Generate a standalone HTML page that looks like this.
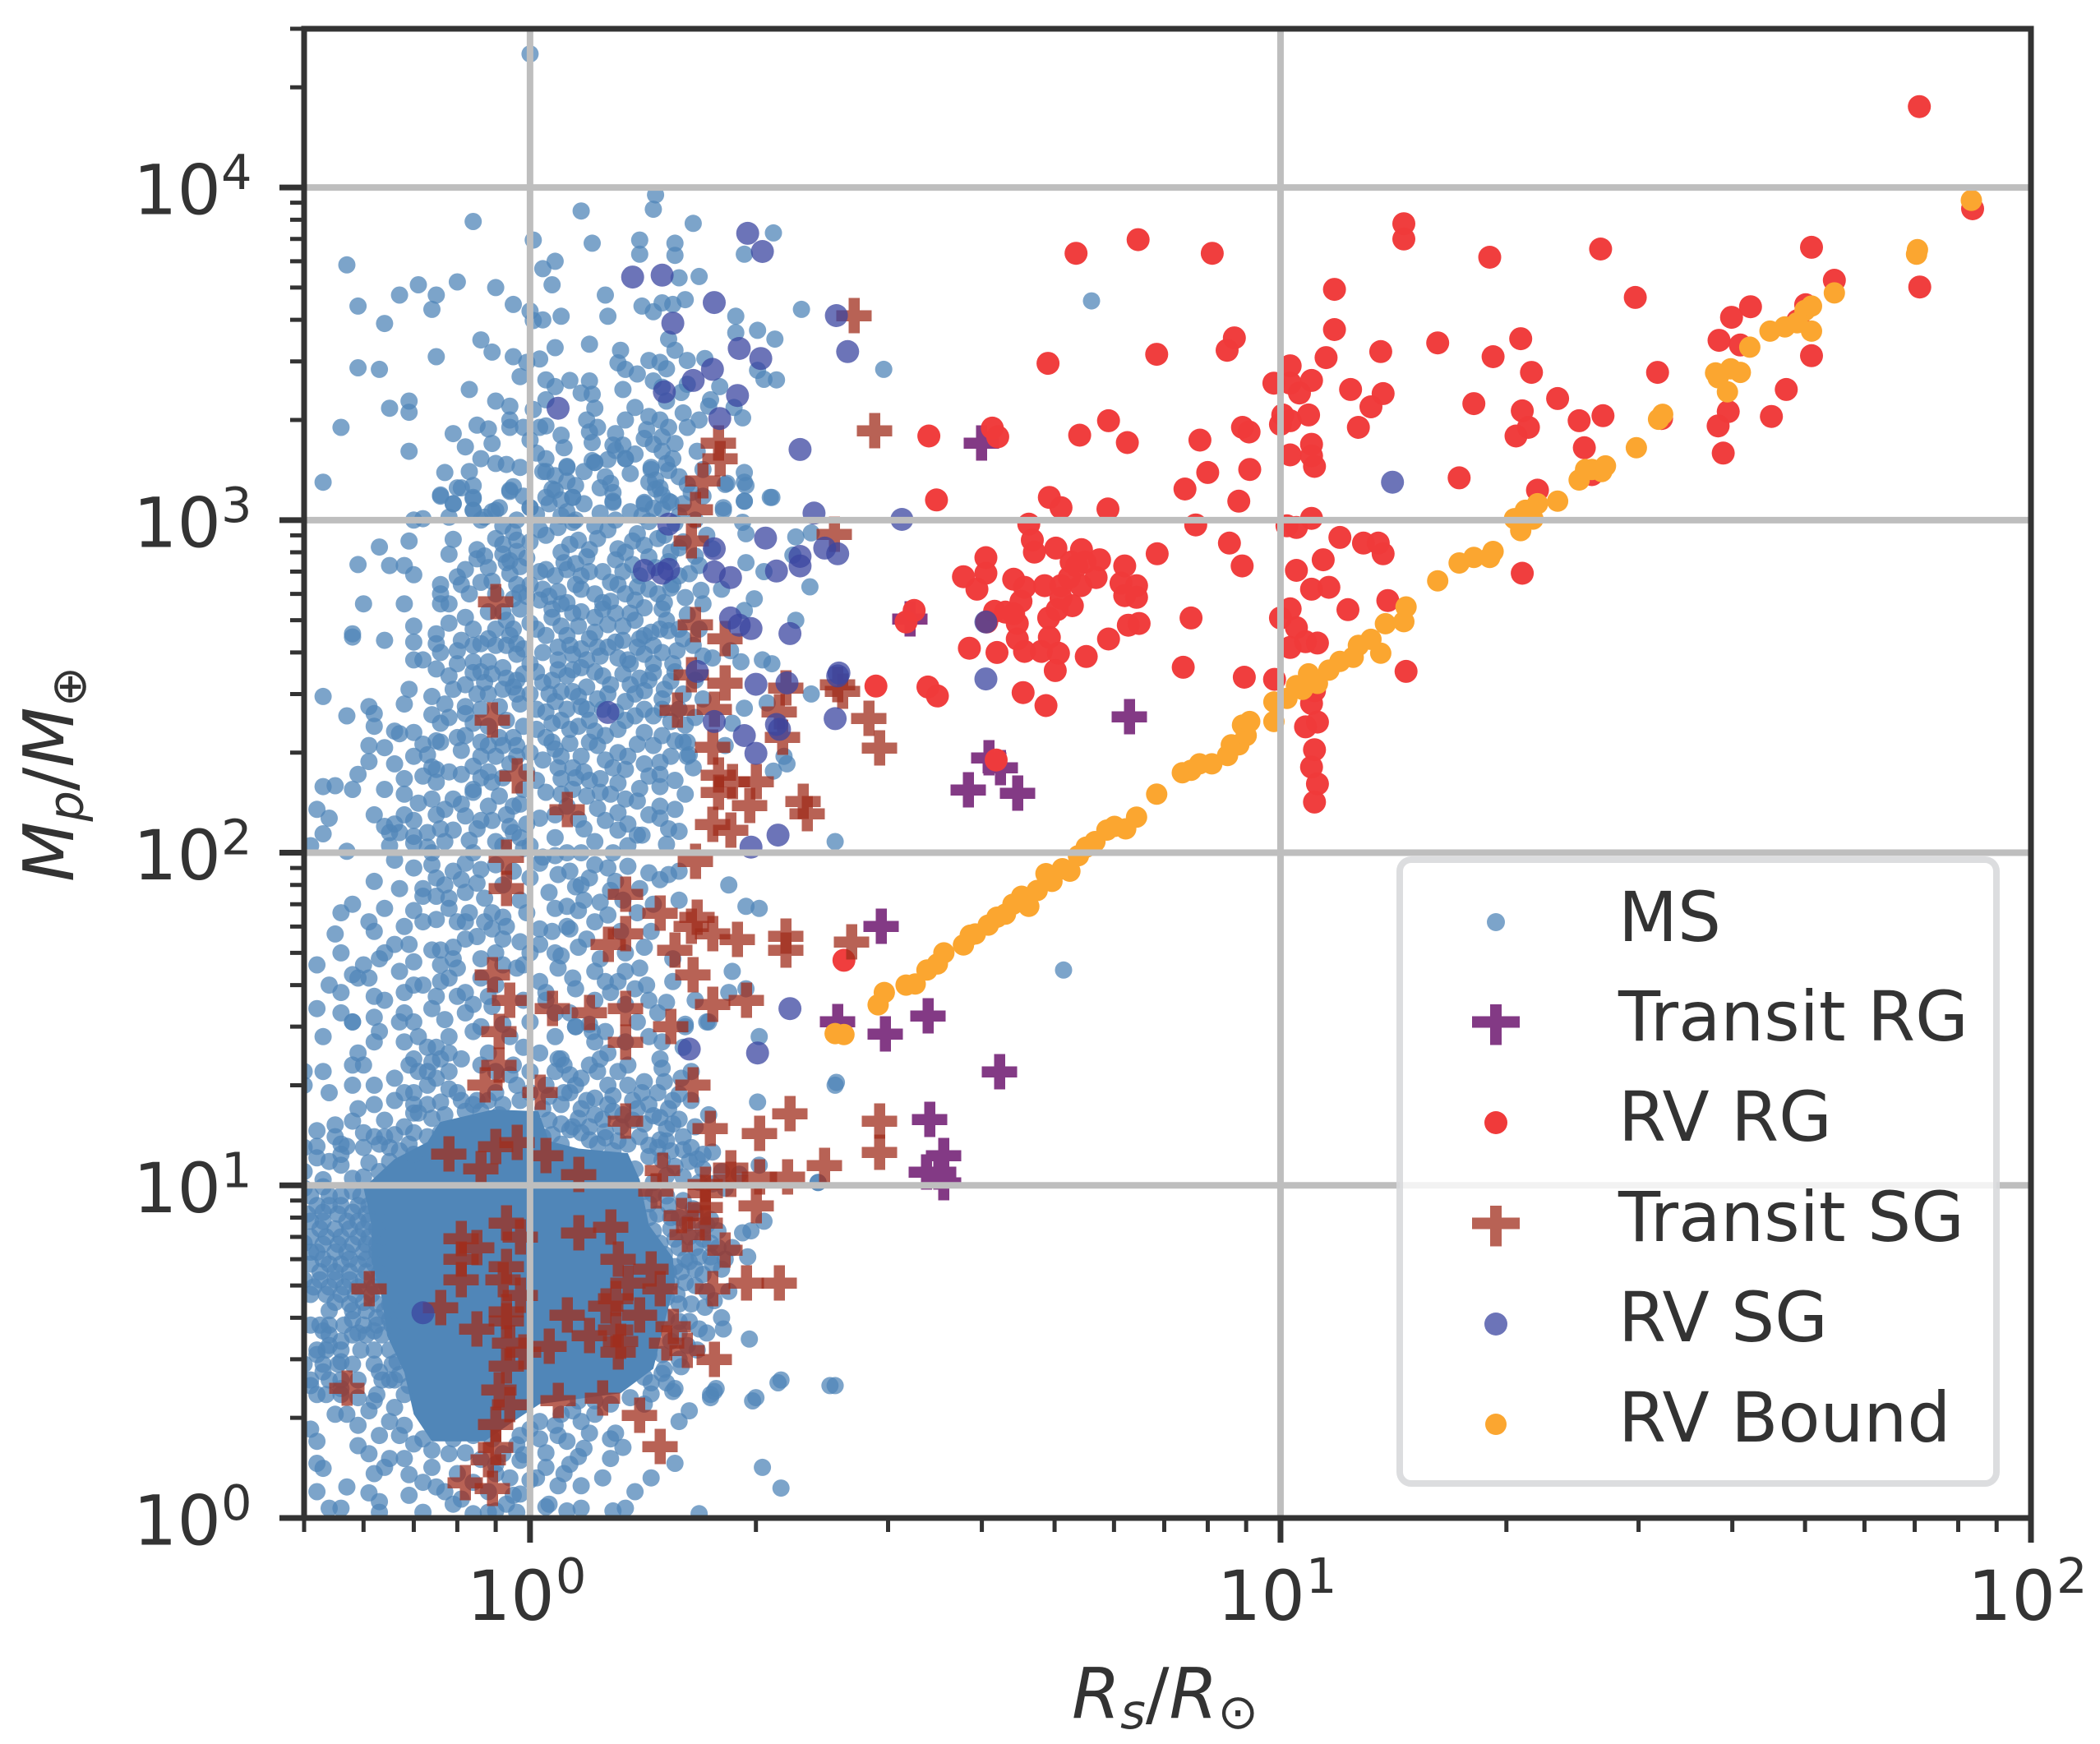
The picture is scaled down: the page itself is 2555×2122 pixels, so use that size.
<!DOCTYPE html>
<html lang="en">
<head>
<meta charset="utf-8">
<title>Planet mass versus stellar radius</title>
<style>
html,body{margin:0;padding:0;background:#fff;}
svg{display:block;}
text{font-family:"DejaVu Sans","Liberation Sans",sans-serif;fill:#333;}
</style>
</head>
<body>
<svg id="chart" xmlns="http://www.w3.org/2000/svg" width="2555" height="2122" viewBox="0 0 2555 2122">
  <rect x="0" y="0" width="2555" height="2122" fill="#fff"/>
  <defs><clipPath id="plot-clip"><rect x="370" y="35" width="2101" height="1812"/></clipPath></defs>
  <g id="marks" clip-path="url(#plot-clip)"></g>
  <g id="grid"></g>
  <g>
    <rect x="1703" y="1046" width="726" height="759" rx="14" ry="14" fill="#fff" fill-opacity="0.8" stroke="#d8d9db" stroke-opacity="0.9" stroke-width="8"/>
    <g>
      <circle cx="1820" cy="1122" r="11" fill="#5086b8" fill-opacity="0.75"/>
      <text x="1969" y="1145" font-size="83.5">MS</text>
    </g>
    <g>
      <path shape-rendering="crispEdges" d="M1813 1222h14v14.500h22v14h-22v21h-14v-21h-22v-14h22z" fill="#833a85"/>
      <text x="1969" y="1266" font-size="83.5">Transit RG</text>
    </g>
    <g>
      <circle cx="1820" cy="1366" r="14" fill="#f03a3a"/>
      <text x="1969" y="1388" font-size="83.5">RV RG</text>
    </g>
    <g>
      <path shape-rendering="crispEdges" d="M1813 1467h14v14.500h22v14h-22v21h-14v-21h-22v-14h22z" fill="#a02e1c" fill-opacity="0.75"/>
      <text x="1969" y="1510" font-size="83.5">Transit SG</text>
    </g>
    <g>
      <circle cx="1820" cy="1611" r="14" fill="#3b46a0" fill-opacity="0.75"/>
      <text x="1969" y="1632" font-size="83.5">RV SG</text>
    </g>
    <g>
      <circle cx="1820" cy="1733" r="13" fill="#fba630"/>
      <text x="1969" y="1754" font-size="83.5">RV Bound</text>
    </g>
  </g>
  <g id="axes"></g>
  <text transform="translate(89,1073) rotate(-90)" font-size="85"><tspan font-style="italic">M</tspan><tspan font-style="italic" font-size="59" dy="12">p</tspan><tspan dy="-12">/</tspan><tspan font-style="italic">M</tspan><tspan font-size="59" dy="15">⊕</tspan></text>
  <text x="1304" y="2090" font-size="85"><tspan font-style="italic">R</tspan><tspan font-style="italic" font-size="59" dy="13">s</tspan><tspan dy="-13">/</tspan><tspan font-style="italic">R</tspan><tspan font-size="59" dy="13">⊙</tspan></text>
</svg>
<script>
/* All values. [stellar radius (Rsun), planet mass (Mearth)] */
const xTickExponents = [0, 1, 2];
const yTickExponents = [0, 1, 2, 3, 4];
const minorMultipliers = [2, 3, 4, 5, 6, 7, 8, 9];
const xLimits = [0.5, 100];
const yLimits = [1, 30000];

/* Outline of the saturated, overplotted part of the MS cloud */
const msDenseOutline = [[.758,15.5],[.893,16.9],[1.026,16.7],[1.06,13.6],[1.16,12.9],[1.35,12.5],[1.4,10.4],[1.44,7.6],[1.55,6.06],[1.56,5.1],[1.5,3.63],[1.46,2.81],[1.32,2.37],[1.03,2.2],[.95,1.95],[.87,1.7],[.74,1.7],[.7,2.05],[.68,2.74],[.645,3.53],[.635,4.56],[.615,5.89],[.615,7.6],[.6,9.83],[.66,12],[.73,13.5]];

const msGiantPlanets = [[1,25200],[.84,7900],[1.17,8500],[1.47,9500],[1.46,8600],[1.65,7800],[1.01,6950],[1.21,6800],[.57,5850],[1.4,6950],[1.4,6300],[1.56,6800],[1.56,6250],[1.93,6300],[2.11,7300],[1.04,5700],[1.08,6000],[1.58,5350],[1.68,5400],[.8,5200],[.71,5100],[.9,5000],[1.07,5100],[.67,4750],[.75,4750],[.59,4400],[.74,4300],[.95,4450],[1.26,4750],[1,4250],[1.01,3980],[1.04,4000],[1.1,4100],[1.27,4100],[1.41,4400],[1.46,4230],[1.5,4500],[1.55,4450],[1.61,4600],[.64,3900],[2.3,4300],[1.88,4100],[1.88,3660],[2.01,3720],[2.12,3500],[.86,3480],[.89,3200],[1.2,3380],[1.08,3300],[1.53,3500],[1.56,3240],[1.32,3240],[1.31,2970],[1.34,2840],[1.44,3020],[1.49,2980],[1.52,2850],[1.62,3020],[1.71,3060],[.95,3100],[.99,2980],[1.03,3050],[.59,2870],[.63,2840],[.75,3100],[1.39,2750],[.97,2700],[1.05,2640],[1.08,2520],[1.13,2630],[1.2,2620],[1.17,2410],[1.21,2390],[1.33,2470],[1.5,2510],[1.59,2420],[1.79,2520],[2.01,2820],[2.05,2650],[2.13,2640],[.83,2470],[.9,2280],[.94,2200],[1.05,2300],[1.01,2150],[.69,2280],[.69,2110],[.65,2170],[1.22,2170],[1.19,2000],[1.34,2000],[1.49,2000],[1.74,2300],[1.73,2200],[1.87,2180],[1.92,2030],[.56,1900],[.85,1930],[.88,1880],[.94,2000],[.94,1900],[.98,1900],[1.03,1900],[1.05,1920],[1.23,1900],[1.43,1870],[1.53,1900],[.89,1700],[1.21,1710],[1.5,1780],[.69,1610],[1.11,1650],[1.29,1680],[1.33,1680],[1.46,1690],[1.02,1590],[1.05,1530],[1.21,1510],[1.27,1520],[1.34,1530],[1.5,1610],[1.55,1530],[1.67,1610],[.93,1470],[1.12,1450],[1.22,1490],[.53,1300],[.77,1390],[.83,1400],[1.05,1400],[1.08,1360],[1.45,1420],[1.53,1410],[1.93,1390],[1.26,1350],[1.47,1320],[1.94,1270],[.84,1270],[.8,1250],[.95,1260],[1.15,1270],[1.24,1250],[1.47,1240],[1.83,1290],[.76,1190],[.84,1170],[.94,1220],[1.07,1240],[1.14,1170],[1.29,1210],[1.5,1190],[1.64,1210],[2.09,1170],[.79,1120],[1.05,1170],[1.1,1150],[1.29,1130],[1.42,1130],[1.54,1130],[1.93,1140],[.84,1070],[.9,1070],[1,1090],[1.46,1085],[1.81,1070],[5.6,4560],[2.96,2840]];

const msMidMassA = [[.76,1180],[.81,1250],[.84,1160],[.79,1120],[.84,1070],[.89,1060],[.94,1230],[1,1090],[1.04,1400],[1.12,1440],[1.08,1230],[1.14,1170],[1.29,1140],[1.22,1490],[1.34,1530],[1.45,1440],[1.49,1250],[1.53,1140],[1.58,1030],[1.42,1120],[1.81,1090],[1.93,1300],[1.93,1140],[2.1,1170],[1.82,1280],[1.92,985],[.7,1000],[.72,1010],[.78,1020],[.87,1020],[.91,1090],[.96,1000],[1.1,1030],[1.15,1000],[1.24,1050],[1.41,1030],[.63,830],[.69,865],[.79,875],[.78,790],[.85,815],[.85,765],[.87,780],[.59,735],[.65,730],[.68,730],[.7,685],[.92,845],[.96,870],[.96,805],[.94,755],[.93,745],[.97,725],[.94,690],[.96,640],[.89,655],[.8,675],[.76,640],[.76,600],[.78,560],[.83,600],[.76,560],[.81,640],[.68,560],[.6,560],[1.03,935],[1.09,950],[1.14,985],[1.13,845],[1.2,815],[1.19,775],[1.11,745],[1.12,710],[1.05,710],[1.17,680],[1.25,700],[1.31,820],[1.37,865],[1.39,910],[1.27,935],[1.37,735],[1.44,775],[1.31,640],[1.39,630],[1.48,600],[1.61,585],[1.51,565],[1.42,545],[1.38,575],[1.25,565],[1.69,615],[1.54,625],[1.63,690],[1.58,825],[1.51,900],[1.94,745],[2.05,700],[2.37,915],[2.26,890],[1.94,910],[2.24,785],[2.36,630],[1.99,580],[1.93,535],[2.26,500],[1.04,620],[1.09,610],[1.17,620],[1.12,565],[1.03,575],[.99,590],[.97,605]];

const msMidMassB = [[.58,455],[.58,445],[.64,435],[.7,480],[.7,430],[.7,380],[.75,455],[.75,425],[.76,400],[.8,405],[.81,435],[.78,490],[.82,510],[.84,470],[.86,425],[.9,420],[.93,420],[.96,425],[.96,395],[.95,470],[.92,530],[1,490],[1.05,450],[1.09,415],[1.07,510],[1.1,480],[1.14,525],[1.17,530],[1.22,510],[1.22,460],[1.27,485],[1.3,525],[1.36,525],[1.45,460],[1.49,470],[1.53,465],[1.33,435],[1.23,415],[1.27,415],[1.14,395],[1.19,380],[1.39,415],[1.31,385],[1.42,395],[1.35,380],[1.46,370],[1.57,405],[1.65,420],[1.75,385],[1.91,375],[2.04,380],[2.1,370],[1.85,405],[.75,357],[.84,375],[.88,375],[.84,348],[.89,345],[.93,335],[.87,325],[.98,345],[.95,315],[.85,300],[.79,310],[.74,295],[.68,280],[.69,310],[.53,295],[.77,280],[.82,275],[.91,275],[.96,300],[1,300],[1.04,325],[1.06,300],[1.1,305],[1.14,305],[1.09,355],[1.14,355],[1.25,340],[1.19,315],[1.17,275],[1.23,290],[1.27,300],[1.36,320],[1.4,335],[1.42,307],[1.51,310],[1.46,348],[1.54,328],[.61,275],[.62,262],[.57,258],[.62,240],[.66,232],[.67,228],[.76,245],[.8,222],[.82,262],[.86,270],[.91,222],[.95,222],[1.05,265],[1.1,250],[1.05,222],[1.13,213],[1.19,270],[1.16,240],[1.22,232],[1.31,235],[1.38,258],[1.46,258],[1.54,248],[1.61,242],[1.7,290],[1.86,245],[1.93,272],[2.07,282],[2.37,300],[1.39,212],[1.46,210],[1.31,200],[1.35,195],[1.56,217],[1.62,215],[1.63,197]];

const msMidMassC = [[.61,210],[.64,207],[.72,212],[.73,197],[.75,217],[.61,188],[.74,181],[.75,178],[.68,167],[.75,163],[.81,203],[.88,210],[.92,210],[.96,210],[.86,195],[.84,182],[.81,172],[.86,168],[.89,163],[.96,195],[1,200],[1.07,215],[1.1,195],[1.09,180],[1.17,195],[1.23,210],[1.29,180],[1.1,167],[1.15,168],[1.2,165],[1.24,167],[1.31,162],[1.49,187],[1.49,172],[1.65,180],[1.62,195],[2.2,185],[2.18,195],[2.11,176],[1.82,210],[.59,172],[.53,158],[.55,159],[.58,155],[.52,135],[.54,127],[.53,114],[.79,145],[.81,140],[.84,152],[.91,148],[.88,138],[.95,138],[.97,140],[1.05,152],[1.19,148],[1.24,152],[1.23,136],[1.4,156],[1.39,143],[1.49,158],[1.61,150],[1.49,138],[1.31,132],[1.49,127],[1.03,127],[.71,141],[.68,130],[.75,130],[.82,129],[.64,120],[.65,115],[.67,115],[.7,112],[.73,115],[.65,105],[.7,107],[.73,104],[.77,108],[.79,117],[.83,109],[.85,118],[.89,125],[.94,120],[.95,115],[.97,111],[.9,108],[1.08,111],[1.16,126],[1.31,117],[1.35,105],[1.39,113],[1.41,113],[1.53,118],[1.58,116],[1.52,106],[2.55,108],[.57,101],[.51,105],[.98,103],[1.08,98],[1.04,97],[1.12,100],[1.17,100],[.74,100]];

const msNeptunesA = [[.82,93],[.86,89],[.75,84],[.81,83],[.85,81],[.72,78],[.77,80],[.72,74],[.78,73],[.78,68],[.58,70],[.56,66],[.61,62],[.7,67],[.75,63],[.83,66],[.87,73],[.89,66],[.87,62],[.92,64],[.8,62],[.89,59],[.55,57],[1.03,93],[1.09,86],[1.06,76],[1.2,84],[1.17,80],[1.15,79],[1.27,90],[1.35,91],[1.44,87],[1.49,83],[1.53,86],[1.28,77],[1.24,71],[1.12,69],[1.16,67],[1.27,65],[1.39,66],[1.03,59],[1.13,59],[1.07,58],[1.84,80],[1.94,69],[2.02,68],[1.19,55],[1.03,53],[.92,55],[.97,54],[.85,56],[.82,55],[.69,53],[.66,53],[.63,48],[.74,51],[.76,51],[.79,48],[.8,45],[.76,46],[.67,44],[.52,46],[.58,43],[.59,42],[.61,42],[.56,38],[.72,40],[.76,41],[.75,37],[.8,37],[.82,38],[.84,35],[.64,36],[.68,33],[.52,34],[.58,31],[.77,31.5],[1.09,45],[1.08,50],[1.1,49],[1.14,42],[1.15,39],[1.26,41],[1.31,41],[1.28,38],[1.34,50],[1.4,45],[1.43,40],[1.38,39],[1.44,36],[1.52,35.5],[1.86,44],[1.84,38],[1.94,39],[.92,46],[.96,45],[.98,46],[1.03,41],[1.05,38],[1.13,33],[1.15,30],[1.2,30.5],[1.39,31],[1.61,30.5],[1.72,31],[1.05,36],[.89,34.5],[.92,30.5],[5.14,44.4]];

const msNeptunesB = [[.53,28],[.58,31],[.63,29],[.62,27],[.68,27],[.67,31],[.71,28],[.73,26],[.75,26],[.59,25],[.58,23],[.6,23],[.69,23],[.53,22],[.5,22],[.5,20],[.58,20],[.54,19],[.59,17],[.71,22],[.73,22],[.78,22],[.81,24],[.76,24],[.84,29],[.88,25],[.98,26],[.95,23],[1.03,25],[1.09,24],[1.11,23],[1.08,22],[1.1,24],[1.15,30],[1.21,29],[1.22,27],[1.49,24],[1.44,28],[1.27,25],[1.61,30],[1.73,31],[2.02,28],[1.24,24],[1.23,22],[1.17,21],[1.15,20],[1.13,19],[1.31,22],[1.35,20],[1.42,20.5],[1.51,20.5],[1.64,22],[1.59,21],[1.64,18],[1.55,18],[1.48,19],[1.41,19],[1.29,18.6],[1.19,18],[.68,19],[.7,19],[.73,20],[.75,21],[.78,19.5],[.73,17.5],[.71,16.5],[.81,18],[.85,18],[.9,19],[.96,20],[.97,18],[1.04,17],[1.1,17.5],[1.14,15],[1.22,16.3],[1.25,15.8],[1.29,16.7],[1.39,17],[1.49,16],[1.55,15.3],[1.49,13.7],[1.54,12.7],[1.64,13],[1.7,12.4],[1.73,16.3],[2.01,17.8],[2.56,20.4],[2.55,20],[.64,15.7],[.68,15],[.62,14],[.64,14],[.6,14.4],[.52,14.6],[.55,15.2],[.55,14],[.56,13.3],[.57,13.1],[.56,12.4],[.52,13.1],[.5,13],[.65,13],[.7,16.5],[.74,15.9],[.77,16.3],[.82,16.7],[.86,16.7],[.91,16.3],[.97,15.6],[.76,14.4],[.81,14.8],[.85,15.2],[.7,14.4],[.73,14],[.69,13.3],[.67,12.7],[.7,12.4],[.73,12.4],[.61,11.7],[.63,11],[.58,10.5],[.65,11.8],[.72,11.5],[.5,11],[.66,10.9],[.75,13],[.78,11.8],[.84,12.7],[.92,12.7],[.98,14],[1.04,14],[1.1,13.3],[1.17,14.4],[1.23,13.3],[1.29,12.7],[1.31,13.6],[1.35,13.3],[1.38,11.2],[1.48,13],[1.63,11.8],[1.7,11.2],[1.8,11],[2.02,11.5],[2.42,10.2],[1.82,9.8]];

const msLowLeft = [[.54,9.3],[.51,9.3],[.56,9.3],[.52,8.7],[.56,8.7],[.54,8.7],[.59,8.7],[.61,8.7],[.53,7.8],[.51,7.8],[.59,7.8],[.61,7.8],[.63,7.8],[.57,7.8],[.51,7],[.535,7],[.56,7],[.59,7],[.61,7],[.635,7],[.51,6.3],[.52,6.3],[.55,6.3],[.57,6.3],[.6,6.3],[.625,6.3],[.51,5.8],[.54,5.8],[.56,5.8],[.59,5.8],[.62,5.8],[.64,5.8],[.5,5.2],[.525,5.2],[.55,5.2],[.575,5.2],[.6,5.2],[.63,5.2],[.51,4.7],[.535,4.7],[.56,4.7],[.585,4.7],[.615,4.7],[.54,4.2],[.58,4.2],[.605,4.2],[.64,4.2],[.66,4.2],[.51,3.8],[.525,3.8],[.54,3.8],[.565,3.8],[.6,3.8],[.625,3.8],[.655,3.8],[.54,3.55],[.58,3.55],[.605,3.55],[.635,3.55],[.52,3.2],[.535,3.2],[.56,3.2],[.595,3.2],[.62,3.2],[.65,3.2],[.5,2.9],[.53,2.9],[.555,2.9],[.58,2.9],[.62,2.9],[.655,2.9],[.51,2.6],[.54,2.6],[.56,2.6],[.59,2.6],[.635,2.6],[.66,2.6],[.52,2.35],[.535,2.35],[.56,2.35],[.625,2.35],[.68,2.35]];

const msLowRight = [[1.44,8.8],[1.48,8.2],[1.53,8.7],[1.44,8],[1.58,8],[1.65,8.5],[1.72,7.6],[1.54,7.4],[1.46,7.3],[1.41,6.9],[1.49,6.7],[1.56,6.9],[1.63,7],[1.7,6.9],[1.92,7.2],[1.97,7.3],[2.05,7.8],[1.95,6.1],[1.78,6.5],[1.68,6.1],[1.74,6.1],[1.82,6],[1.61,6],[1.51,6.2],[1.56,5.7],[1.63,5.9],[1.53,5.5],[1.59,5.5],[1.7,5.4],[1.8,5.6],[1.84,4.8],[1.54,5.1],[1.61,5.1],[1.58,4.4],[1.71,4.3],[1.8,4],[1.81,3.7],[1.72,3.6],[1.63,3.9],[1.57,4.7],[1.52,4.6],[1.96,3.45],[1.58,3.6],[1.67,3.2],[1.58,3],[1.59,2.85],[1.44,3.1],[1.51,2.8],[1.56,2.45],[1.77,2.45],[1.74,2.35],[2.16,2.6],[2.55,2.5],[2,2.3],[1.38,3.4],[2.42,10.2]];

const msLowBottom = [[1.2,1.8],[1.17,1.95],[1.28,1.73],[1.33,1.63],[1.28,1.51],[1.25,1.32],[1.16,1.53],[1.13,1.45],[1.17,1.25],[1.11,1.36],[1.09,1.25],[1.06,1.1],[1.02,1.32],[1.05,1.57],[1.09,1.77],[1.03,1.73],[.97,1.49],[.97,1.18],[.93,1.1],[.88,1.04],[.84,1.03],[.81,1.14],[.79,1.1],[.75,1.24],[.72,1.28],[.69,1.17],[.68,1.51],[.65,1.51],[.61,1.56],[.59,1.65],[.62,1.36],[.64,1.42],[.61,1.19],[.63,1.12],[.56,1.07],[.57,1.24],[.54,1.07],[.52,1.2],[.53,1.41],[.52,1.46],[.52,1.7],[.51,1.85],[.57,2.05],[.59,1.9],[.61,2.1],[.62,2.25],[.55,2.05],[.53,2.75],[.56,2.95],[.54,3.3],[.53,3.65],[.56,3.4],[.52,3.1],[.51,2.5],[.56,2.45],[.59,2.3],[.63,2.75],[.65,2.6],[.63,1.77],[.68,1.9],[.72,1.73],[.79,1.73],[.84,1.77],[.89,1.73],[.94,1.32],[.9,1.36],[.97,1.77],[1.03,1.95],[1.1,2.05],[1.16,2.25],[1.22,2.25],[1.3,1.8],[1.42,2.2],[1.45,2.36],[1.55,2.4],[1.5,2.72],[1.45,2.55],[1.58,1.95],[1.63,2.1],[1.74,2.3],[1.76,2.4],[1.98,2.25],[2.14,2.55],[2.51,2.5],[2.04,1.42],[2.16,1.23],[1.56,1.46],[1.45,1.32],[1.38,1.2],[1.29,1.05],[1.34,1.07],[1.68,1.03],[1.17,1.07],[1.12,1.05],[1.05,1.08],[.95,1.17],[.72,1.04],[.63,1.04],[.96,1.04],[.9,1.05]];

const msUpperFill = [[.86,1000],[.92,960],[.98,1180],[1.02,1040],[1.06,1120],[1.12,1060],[1.18,1120],[1.22,960],[1.3,1000],[1.36,1060],[1.44,990],[1.5,1080],[1.56,980],[1.6,1120],[1.66,1000],[1.7,1180],[.9,880],[.95,920],[1,860],[1.05,900],[1.1,800],[1.16,870],[1.23,880],[1.3,760],[1.34,800],[1.42,840],[1.48,880],[1.54,800],[1.6,860],[1.66,780],[1.72,900],[.88,720],[.92,790],[.99,770],[1.03,700],[1.08,680],[1.15,740],[1.2,700],[1.28,650],[1.33,700],[1.4,680],[1.47,720],[1.53,750],[1.58,680],[1.68,730],[1.75,820],[.82,710],[.86,650],[.9,600],[.95,580],[1,640],[1.06,590],[1.1,560],[1.15,640],[1.22,600],[1.28,570],[1.34,600],[1.44,620],[1.5,540],[1.55,640],[1.62,520],[1.7,560],[1.8,620],[.88,530],[.93,500],[.97,540],[1.02,470],[1.07,540],[1.12,450],[1.16,480],[1.2,440],[1.25,540],[1.33,480],[1.38,500],[1.42,450],[1.52,500],[1.58,470],[1.68,470],[.88,440],[.9,470],[.94,450],[.98,410],[1,370],[1.04,400],[1.09,380],[1.13,420],[1.17,410],[1.24,390],[1.3,430],[1.36,370],[1.4,440],[1.46,420],[1.5,400],[1.55,370],[1.6,440],[1.7,390],[.8,370],[.84,420],[.72,380],[.78,340],[1.28,1290],[1.36,1380],[1.44,1300],[1.52,1480],[1.58,1350],[1.62,1280],[1.7,1420],[1.3,1620],[1.38,1580],[1.42,1760],[1.56,1700],[1.62,1900],[1.2,1840],[1.3,1820],[1.38,2180],[1.44,2050],[1.52,2280],[1.6,2100],[1.68,2000],[1.1,1800],[1,1740],[.97,1440],[.9,1480],[.86,1530],[.82,1660],[.79,1820],[1.12,1310],[1.18,1400],[1.62,2560],[1.46,2620]];

const msMidFill = [[.86,350],[.92,360],[.96,330],[1.02,350],[1.07,330],[1.12,340],[1.17,360],[1.22,350],[1.28,320],[1.33,345],[1.38,300],[1.44,330],[1.5,290],[1.56,350],[1.6,300],[1.66,330],[.82,320],[.88,300],[.92,310],[.97,280],[1.02,270],[1.08,285],[1.12,270],[1.16,295],[1.2,250],[1.25,270],[1.3,265],[1.34,285],[1.42,270],[1.5,270],[1.58,270],[1.66,255],[.74,260],[.78,255],[.84,245],[.88,240],[.93,250],[.98,240],[1.02,235],[1.07,245],[1.13,235],[1.2,215],[1.26,225],[1.34,250],[1.42,230],[1.5,225],[1.6,215],[.7,230],[.76,215],[.82,225],[.86,215],[.9,195],[.94,185],[.99,175],[1.04,190],[1.08,205],[1.14,180],[1.18,175],[1.26,190],[1.34,178],[1.42,185],[1.54,195],[.7,195],[.66,185],[.72,170],[.78,175],[.84,155],[.88,175],[.92,168],[.98,155],[1.02,165],[1.1,150],[1.14,155],[1.28,150],[1.34,145],[1.44,170],[1.56,165],[.64,155],[.68,150],[.74,145],[.77,135],[.86,125],[.93,130],[.99,122],[1.08,130],[1.12,138],[1.18,118],[1.26,125],[1.35,122],[1.44,130],[1.56,135],[.62,130],[.66,122],[.7,125],[.76,118],[.84,100],[.92,105],[1,105],[1.22,108],[1.29,100]];

const msNeptuneFill = [[.66,95],[.7,90],[.74,92],[.79,88],[.9,92],[.95,88],[1.13,88],[1.22,92],[1.3,82],[1.4,78],[1.58,88],[.62,82],[.67,78],[.75,74],[.82,76],[.92,80],[.97,72],[1,84],[1.08,68],[1.18,72],[1.33,72],[1.46,70],[1.58,72],[.64,68],[.68,60],[.72,62],[.82,62],[.93,60],[.99,66],[1.12,60],[1.22,62],[1.32,58],[1.45,58],[.62,58],[.64,50],[.7,47],[.79,52],[.86,48],[.9,50],[1,50],[1.16,52],[1.24,48],[1.42,52],[1.55,48],[.56,50],[.6,46],[.7,40],[.78,42],[.86,42],[.9,40],[1.22,44],[1.34,44],[1.55,41],[.54,40],[.62,37],[.68,38],[.74,34],[.82,33],[.88,37],[.98,36],[1.08,33],[1.22,36],[1.34,35],[1.48,33],[1.66,36],[.56,33],[.62,32],[.7,31],[.78,28],[.86,30],[.94,28],[1,31],[1.08,28],[1.26,29],[1.34,27],[1.5,27],[1.6,26]];

const msTenFill = [[.62,20],[.66,21],[.7,24],[.74,23.5],[.78,25],[.86,23],[.9,22],[.94,21.5],[1,22],[1.05,20],[1.13,21.5],[1.2,23],[1.27,20],[1.35,23],[1.5,22.5],[.62,17.5],[.66,18],[.7,17.5],[.76,17.8],[.8,19],[.84,17.5],[.88,18],[.92,17.5],[1,19],[1.06,18.5],[1.11,19],[1.17,17],[1.22,18.3],[1.27,17.5],[1.33,16.3],[1.37,18],[1.44,17.5],[1.53,17],[1.58,18.8],[1.06,15.7],[1.1,15.3],[1.16,15.9],[1.2,15],[1.26,14.5],[1.32,15],[1.37,15.7],[1.42,15.3],[1.46,16.2],[1.52,14.8],[1.58,15.8],[1.66,15],[.58,15.6],[.6,13],[.63,13.3],[.66,14.2],[1.07,14.2],[1.13,14.7],[1.2,13.7],[1.26,13.9],[1.4,14],[1.44,13.2],[1.52,13.6],[1.6,14],[1.44,12.2],[1.5,11.9],[1.56,11.4],[1.6,12.8],[1.67,12],[1.75,12.6],[1.52,10.7],[1.6,10.6],[1.68,10.2],[1.75,10.1],[1.9,10.8],[1.46,10.2],[.56,11.5],[.54,11.8],[.52,12.1],[.6,10.6],[.53,10.4]];

const msEdgeFill = [[.5,9.8],[.53,9.9],[.58,9.6],[.595,9.3],[.505,8.2],[.53,8.3],[.555,8.2],[.58,8.3],[.605,8.2],[.525,7.4],[.55,7.4],[.575,7.4],[.6,7.4],[.625,7.4],[.5,6.7],[.53,6.65],[.555,6.65],[.58,6.65],[.605,6.65],[.625,6.65],[.53,6],[.575,6],[.605,6],[.525,5.5],[.55,5.5],[.575,5.5],[.605,5.5],[.63,5.45],[.515,4.95],[.54,4.95],[.565,4.95],[.59,4.95],[.62,4.95],[.55,4.45],[.575,4.4],[.6,4.45],[.625,4.4],[.65,4.4],[.58,3.95],[.625,4],[.65,3.95],[.59,3.6],[.62,3.65],[.665,3.5],[.68,3.2],[.665,2.95],[.67,2.7],[.69,2.5],[1.42,9.6],[1.46,9.4],[1.52,9.3],[1.6,9],[1.66,8.3],[1.74,7.9],[1.78,7.3],[1.62,7.7],[1.7,7.4],[1.54,8],[1.58,6.5],[1.66,6.5],[1.74,6.7],[1.86,6.5],[1.66,5.6],[1.75,5.8],[1.66,5],[1.72,4.8],[1.76,4.5],[1.64,4.4],[1.52,4],[1.58,3.9],[1.68,3.7],[1.54,3.4],[1.62,3.3],[1.5,3.1],[1.52,2.55],[1.42,2.65],[1.36,2.3],[1.28,2.2],[1.22,2.05],[1.14,2.1],[1.08,1.9],[1.12,1.7],[1.18,1.62],[1,1.85],[.96,1.66],[.98,1.55],[1.05,1.42],[1,1.3],[.92,1.56],[.9,1.45],[.86,1.5],[.82,1.57],[.78,1.56],[.74,1.6],[.7,1.67],[.67,1.77],[.65,1.95],[.66,2.15],[.69,1.35],[.74,1.42],[.8,1.36],[.84,1.28],[.88,1.2],[.77,1.2]];

const transitRgPoints = [[2.94,60],[2.57,31],[2.97,28.6],[3.39,32.4],[4.22,22],[3.41,15.8],[3.56,12.3],[3.37,11],[3.56,10.2],[3.5,11],[3.99,1710],[3.21,506],[6.29,257],[4.09,193],[4.23,180],[3.84,155],[4.46,151]];

const rvRgPoints = [[5.34,6340],[6.46,6970],[8.11,6340],[14.6,7000],[14.6,7780],[11.8,4940],[11.8,3740],[8.68,3530],[8.49,3240],[6.84,3150],[4.9,2960],[16.2,3410],[13.6,3210],[11.5,3080],[10.3,2910],[9.8,2580],[11,2630],[10.3,2580],[10.6,2410],[12.4,2470],[13.7,2400],[13.2,2190],[12.7,1900],[10.9,2070],[10.07,2070],[10,1940],[10.3,1990],[8.9,1900],[9.08,1840],[7.81,1740],[10.3,1570],[11,1690],[11,1560],[11.1,1450],[8,1390],[9.1,1420],[7.46,1240],[8.8,1140],[5.4,1800],[5.9,1990],[6.25,1710],[4.13,1890],[4.2,1780],[3.4,1790],[3.48,1150],[4.92,1170],[5.1,1090],[5.89,1080],[4.62,972],[4.67,871],[5.02,824],[4.7,801],[5.43,815],[5.74,760],[5.26,748],[7.71,967],[8.55,853],[8.89,728],[6.85,792],[6.2,728],[10.2,961],[10.5,950],[11,1012],[12,887],[12.9,853],[13.5,853],[13.7,792],[11.4,760],[10.5,706],[11,620],[11.6,628],[12.3,538],[13.9,573],[14.7,351],[10.3,541],[10,508],[10.5,475],[10.3,414],[10.8,431],[11.2,427],[7.6,508],[7.42,361],[8.95,337],[9.82,332],[11.1,307],[11,281],[11.2,247],[10.8,239],[11.1,204],[11,181],[11.2,161],[11.1,142],[3.78,676],[4.05,771],[4.05,692],[3.94,620],[4.41,664],[4.56,628],[4.85,635],[5.1,635],[5.23,672],[5.42,635],[5.35,728],[5.49,748],[5.68,672],[6.13,646],[6.43,635],[6.2,593],[6.43,586],[6.27,483],[6.48,489],[5.9,439],[5.51,389],[4.16,532],[4.3,529],[4.51,570],[4.46,489],[4.41,523],[4.46,439],[5.1,583],[4.91,508],[5.04,538],[5.28,553],[4.92,444],[4.56,403],[4.8,403],[5.06,398],[5.01,353],[4.19,400],[3.85,412],[4.06,494],[4.54,303],[4.87,277],[2.89,317],[3.39,315],[3.49,296],[3.17,494],[3.25,535],[4.18,190],[71,17500],[83.6,8630],[71.1,5020],[51,6610],[54.7,5260],[19,6170],[26.7,6530],[29.7,4670],[20.9,3510],[19.2,3100],[21.6,2780],[23.4,2320],[18.1,2240],[21,2130],[21.4,1900],[20.6,1790],[25,1990],[26.9,2060],[25.4,1650],[26,1370],[31.8,2780],[32.2,2020],[17.3,1340],[22,1230],[21,692],[39.9,4070],[42.3,4380],[38.4,3470],[41,3360],[50.1,4440],[48.9,3980],[51,3120],[47.2,2470],[45.1,2050],[39.5,2120],[38.3,1920],[38.9,1590],[2.62,47.5]];

const transitSgPoints = [[1.78,1710],[1.79,1530],[1.7,1315],[1.66,1077],[1.64,867],[.9,570],[1.66,485],[1.82,441],[2.7,4120],[2.88,1860],[2.54,908],[1.82,323],[1.64,343],[1.57,269],[1.76,270],[2.15,266],[2.19,313],[2.57,321],[2.61,306],[2.83,253],[2.17,223],[2.92,207],[.89,250],[1.75,208],[.96,170],[2,164],[1.78,171],[1.86,164],[1.78,152],[1.96,139],[2.31,143],[2.34,131],[1.12,135],[1.75,122],[1.85,117],[.93,97],[1.66,94],[.93,78],[1.34,75],[1.49,66],[1.67,64],[1.34,57],[1.27,53],[1.64,60],[1.75,57],[1.89,55],[1.56,51],[2.19,56],[2.19,51],[2.68,54],[1.65,43],[.89,43],[.94,36],[1.07,34],[1.2,33],[1.34,34],[1.75,35],[1.94,36],[1.54,30],[.91,29],[1.34,27],[.91,23],[.87,20],[1.03,19],[1.65,20],[1.34,15.6],[2.22,16.4],[2.02,14.3],[1.74,14.8],[2.47,11.5],[2.92,15.6],[2.92,12.6],[.78,12.4],[.86,11.2],[.9,13.1],[.96,13.5],[1.05,12.3],[1.16,10.8],[1.5,11.1],[1.47,9.6],[1.71,10.1],[1.85,11.3],[1.85,10.4],[2.02,10.6],[2.2,10.6],[2,8.7],[1.71,9.5],[1.59,8.1],[1.71,8.6],[1.71,7.7],[1.62,7.1],[1.82,6.4],[1.75,4.9],[1.94,5.1],[2.15,5.1],[1.55,3.76],[1.52,3.36],[1.62,3.2],[1.76,3],[1.28,7.5],[1.16,7.2],[1.31,6],[1.45,5.6],[1.49,4.9],[1.35,5.1],[.81,6.9],[.85,6.5],[.81,6],[.81,5.2],[.93,7.7],[.97,7],[.93,5.7],[.92,5.2],[.97,4.67],[.61,4.9],[.76,4.3],[.85,3.7],[.93,4.17],[.93,3.92],[.94,3.36],[.98,3.15],[1.06,3.28],[1.12,4.07],[1.2,3.53],[1.26,4.34],[1.3,4.56],[1.3,3.68],[1.32,3.4],[1.4,4.07],[1.31,3.15],[.57,2.45],[.93,2.86],[.91,2.43],[.94,2.19],[1.09,2.25],[1.25,2.3],[1.4,2.04],[1.49,1.64],[.9,1.91],[.9,1.63],[.88,1.5],[.82,1.28],[.89,1.23]];

const rvSgPoints = [[1.95,7280],[2.04,6420],[1.37,5380],[1.5,5450],[1.76,4510],[1.55,3910],[1.9,3280],[2.03,3060],[1.75,2840],[1.65,2630],[1.51,2430],[1.89,2370],[1.09,2170],[1.79,2020],[2.29,1630],[2.39,1050],[1.53,972],[2.06,883],[1.76,820],[2.47,824],[2.29,778],[2.57,792],[1.42,706],[1.53,711],[1.5,692],[1.76,699],[1.85,672],[2.13,703],[2.29,728],[1.85,508],[1.9,483],[1.97,472],[2.22,456],[2.58,347],[2.57,340],[1.67,351],[2,321],[2.2,324],[1.27,264],[1.76,248],[2.55,253],[2.13,243],[2.15,235],[1.93,225],[2,199],[2.14,113],[1.97,104],[2.22,34],[1.63,25.7],[2.01,25],[.72,4.14],[3.13,1005],[2.56,4120],[2.65,3210],[4.05,494],[4.05,333],[14.1,1300]];

const rvBoundPoints = [[2.55,28.6],[2.62,28.4],[2.91,34.9],[2.965,38],[3.17,40],[3.26,40.3],[3.38,44.4],[3.49,46.3],[3.56,50],[3.78,52.8],[3.86,56.5],[3.92,57],[4.08,60.6],[4.19,64],[4.3,65.4],[4.4,70],[4.52,74],[4.62,69],[4.74,77],[4.87,86.5],[4.96,82],[5.12,89.5],[5.24,88],[5.38,98],[5.51,104],[5.66,108],[5.87,117],[6.01,120],[6.22,118],[6.43,128],[6.84,150],[7.4,174],[7.6,177],[7.8,185],[8.1,185],[8.5,196],[8.6,211],[8.8,211],[9,225],[8.9,242],[9.1,248],[9.8,284],[9.8,248],[10.2,291],[10.5,318],[10.9,345],[10.7,310],[11.2,323],[11.6,354],[12,376],[12.5,387],[12.7,420],[13.2,438],[13.6,398],[13.8,488],[14.6,495],[14.7,548],[16.2,657],[17.3,743],[18.1,772],[19,772],[19.2,805],[20.9,930],[20.5,1010],[21.7,1007],[22,1120],[21.2,1070],[23.4,1140],[25,1320],[25.5,1420],[26.8,1400],[27.1,1455],[26,1420],[29.8,1650],[31.9,2010],[32.3,2080],[38.3,2680],[38,2770],[39.4,2430],[39.8,2850],[41,2780],[42.2,3310],[44.9,3700],[47,3810],[48.8,3920],[50,4270],[51,4400],[51,3700],[54.7,4820],[70.6,6500],[70.4,6300],[83.3,9150]];

const plotLeft = 370, plotRight = 2471, plotTop = 35, plotBottom = 1847;
const SVG_NS = 'http://www.w3.org/2000/svg';
const xPerDecade = (plotRight - plotLeft) / Math.log10(xLimits[1] / xLimits[0]);
const yPerDecade = (plotBottom - plotTop) / Math.log10(yLimits[1] / yLimits[0]);
function xScale(radius) { return plotLeft + Math.log10(radius / xLimits[0]) * xPerDecade; }
function yScale(mass) { return plotBottom - Math.log10(mass / yLimits[0]) * yPerDecade; }

const marks = document.getElementById('marks');
const grid = document.getElementById('grid');
const axes = document.getElementById('axes');

function svgEl(tag, attrs, parent) {
  const el = document.createElementNS(SVG_NS, tag);
  for (const key in attrs) el.setAttribute(key, attrs[key]);
  parent.appendChild(el);
  return el;
}
function dot(point, r, fill, opacity) {
  return svgEl('circle', {cx: xScale(point[0]).toFixed(1), cy: yScale(point[1]).toFixed(1), r: r, fill: fill, 'fill-opacity': opacity}, marks);
}
function plus(point, fill, opacity) {
  const x = Math.round(xScale(point[0])), y = Math.round(yScale(point[1]));
  const arm = 21.5, half = 6.75;
  const d = 'M' + (x - half) + ' ' + (y - arm) + 'H' + (x + half) + 'V' + (y - half) + 'H' + (x + arm) + 'V' + (y + half) + 'H' + (x + half) + 'V' + (y + arm) + 'H' + (x - half) + 'V' + (y + half) + 'H' + (x - arm) + 'V' + (y - half) + 'H' + (x - half) + 'Z';
  return svgEl('path', {d: d, fill: fill, 'fill-opacity': opacity, 'shape-rendering': 'crispEdges'}, marks);
}

const corePoly = svgEl('polygon', {points: msDenseOutline.map(p => xScale(p[0]).toFixed(1) + ',' + yScale(p[1]).toFixed(1)).join(' '), fill: '#5086b8'}, marks);



const msPoints = [].concat(msGiantPlanets, msMidMassA, msMidMassB, msMidMassC, msNeptunesA, msNeptunesB, msLowLeft, msLowRight, msLowBottom, msUpperFill, msMidFill, msNeptuneFill, msTenFill, msEdgeFill);
for (const p of msPoints) {
  const el = dot(p, 10.5, '#5086b8', 0.75);
  
  
}
for (const p of transitRgPoints) {
  const el = plus(p, '#833a85', 1);
  
  
}
for (const p of rvRgPoints) {
  const el = dot(p, 14, '#f03a3a', 0.98);
  
  
}
for (const p of transitSgPoints) {
  const el = plus(p, '#a02e1c', 0.75);
  
  
}
for (const p of rvSgPoints) {
  const el = dot(p, 14, '#3b46a0', 0.75);
  
  
}
for (const p of rvBoundPoints) {
  const el = dot(p, 13, '#fba630', 1);
  
  
}

for (const e of xTickExponents) {
  const x = xScale(Math.pow(10, e));
  if (e < xTickExponents[xTickExponents.length - 1]) {
    const line = svgEl('line', {x1: x, x2: x, y1: plotTop, y2: plotBottom, stroke: '#bebebe', 'stroke-width': 8}, grid);
    
    
  }
  const tick = svgEl('line', {x1: x, x2: x, y1: plotBottom, y2: plotBottom + 30, stroke: '#333', 'stroke-width': 7}, axes);
  
  
  const label = svgEl('text', {x: x - 77, y: 1971, 'font-size': 84}, axes);
  label.textContent = '10';
  
  
  const sup = svgEl('text', {x: x + 31, y: 1938, 'font-size': 59}, axes);
  sup.textContent = String(e);
  
  
}
for (const e of yTickExponents) {
  const y = yScale(Math.pow(10, e));
  if (e > yTickExponents[0]) {
    const line = svgEl('line', {x1: plotLeft, x2: plotRight, y1: y, y2: y, stroke: '#bebebe', 'stroke-width': 8}, grid);
    
    
  }
  const tick = svgEl('line', {x1: plotLeft - 30, x2: plotLeft, y1: y, y2: y, stroke: '#333', 'stroke-width': 7}, axes);
  
  
  const label = svgEl('text', {x: 162, y: y + 32.5, 'font-size': 84}, axes);
  label.textContent = '10';
  
  
  const sup = svgEl('text', {x: 269, y: y + 2, 'font-size': 59}, axes);
  sup.textContent = String(e);
  
  
}
for (let e = -1; e < 2; e++) {
  for (const m of minorMultipliers) {
    const v = m * Math.pow(10, e);
    if (v < xLimits[0] || v > xLimits[1]) continue;
    const x = xScale(v);
    const tick = svgEl('line', {x1: x, x2: x, y1: plotBottom, y2: plotBottom + 17, stroke: '#333', 'stroke-width': 5}, axes);
    
    
  }
}
for (let e = 0; e < 5; e++) {
  for (const m of minorMultipliers) {
    const v = m * Math.pow(10, e);
    if (v > yLimits[1]) continue;
    const y = yScale(v);
    const tick = svgEl('line', {x1: plotLeft - 17, x2: plotLeft, y1: y, y2: y, stroke: '#333', 'stroke-width': 5}, axes);
    
    
  }
}
const frame = svgEl('rect', {x: plotLeft, y: plotTop, width: plotRight - plotLeft, height: plotBottom - plotTop, fill: 'none', stroke: '#333', 'stroke-width': 7}, axes);


</script>
</body>
</html>
